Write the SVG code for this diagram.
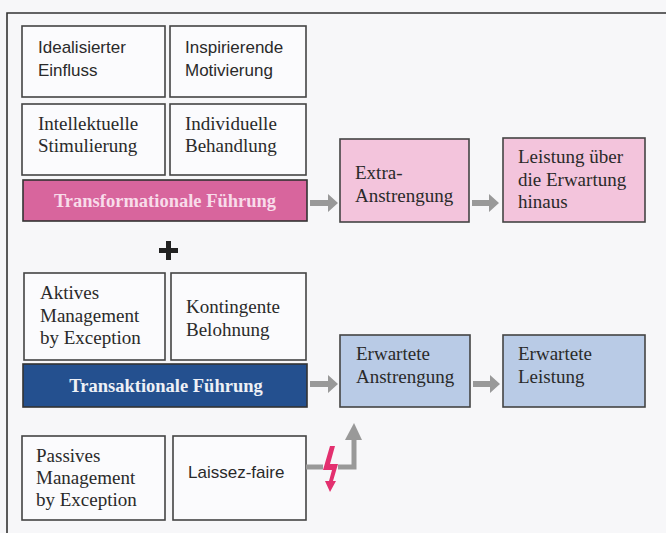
<svg xmlns="http://www.w3.org/2000/svg" width="666" height="533" viewBox="0 0 666 533">
<style>
.box{fill:#fbfbfd;stroke:#444;stroke-width:1.6}
.pink{fill:#f3c4dc;stroke:#444;stroke-width:1.6}
.blue{fill:#b9cbe6;stroke:#444;stroke-width:1.6}
.sans{font-family:"Liberation Sans",Arial,sans-serif;font-size:17px;fill:#2a2a2a}
.serif{font-family:"Liberation Serif","Times New Roman",serif;font-size:19px;fill:#2a2a2a}
.bar{font-family:"Liberation Serif","Times New Roman",serif;font-size:18.5px;font-weight:bold;text-anchor:middle}
.arrow{fill:#999}
</style>
<rect width="666" height="533" fill="#f7f7f9"/>
<path d="M7,533 V13 H666" fill="none" stroke="#333" stroke-width="1.6"/>

<g id="idealisierter">
<rect class="box" x="22" y="26" width="143" height="71"/>
<text class="sans" x="38" y="53">Idealisierter</text>
<text class="sans" x="38" y="76">Einfluss</text>
</g>
<g id="inspirierende">
<rect class="box" x="170" y="26" width="136" height="71"/>
<text class="sans" x="185" y="53">Inspirierende</text>
<text class="sans" x="185" y="76">Motivierung</text>
</g>
<g id="intellektuelle">
<rect class="box" x="22" y="104" width="143" height="71"/>
<text class="serif" x="38" y="130">Intellektuelle</text>
<text class="serif" x="38" y="152">Stimulierung</text>
</g>
<g id="individuelle">
<rect class="box" x="170" y="104" width="136" height="71"/>
<text class="serif" x="185" y="130">Individuelle</text>
<text class="serif" x="185" y="152">Behandlung</text>
</g>
<g id="transformational">
<rect x="23" y="180" width="284" height="41" fill="#d8659d" stroke="#333" stroke-width="1.6"/>
<text class="bar" x="165" y="207" fill="#f8dcea">Transformationale Führung</text>
</g>
<g id="extra">
<rect class="pink" x="340" y="139" width="129" height="83"/>
<text class="serif" x="355" y="179">Extra-</text>
<text class="serif" x="355" y="202">Anstrengung</text>
</g>
<g id="leistung-ueber">
<rect class="pink" x="503" y="138" width="142" height="84"/>
<text class="serif" x="518" y="163">Leistung über</text>
<text class="serif" x="518" y="186">die Erwartung</text>
<text class="serif" x="518" y="208">hinaus</text>
</g>

<g id="plus">
<path d="M166,241 h5 v7 h7 v5 h-7 v7 h-5 v-7 h-7 v-5 h7 z" fill="#222"/>
</g>

<g id="aktives">
<rect class="box" x="24" y="273" width="141" height="87"/>
<text class="serif" x="40" y="299">Aktives</text>
<text class="serif" x="40" y="322">Management</text>
<text class="serif" x="40" y="344">by Exception</text>
</g>
<g id="kontingente">
<rect class="box" x="171" y="273" width="135" height="87"/>
<text class="serif" x="186" y="313">Kontingente</text>
<text class="serif" x="186" y="336">Belohnung</text>
</g>
<g id="transaktional">
<rect x="23" y="364" width="284" height="43" fill="#24508f" stroke="#333" stroke-width="1.6"/>
<text class="bar" x="166" y="392" fill="#eef0f6">Transaktionale Führung</text>
</g>
<g id="erwartete-anstrengung">
<rect class="blue" x="340" y="335" width="130" height="72"/>
<text class="serif" x="356" y="360">Erwartete</text>
<text class="serif" x="356" y="383">Anstrengung</text>
</g>
<g id="erwartete-leistung">
<rect class="blue" x="503" y="335" width="142" height="72"/>
<text class="serif" x="518" y="360">Erwartete</text>
<text class="serif" x="518" y="383">Leistung</text>
</g>
<g id="passives">
<rect class="box" x="22" y="436" width="143" height="84"/>
<text class="serif" x="36" y="462">Passives</text>
<text class="serif" x="36" y="484">Management</text>
<text class="serif" x="36" y="506">by Exception</text>
</g>
<g id="laissez-faire">
<rect class="box" x="173" y="436" width="133" height="84"/>
<text class="sans" x="188" y="478">Laissez-faire</text>
</g>

<g id="connectors">
<path class="arrow" d="M310,200 h18 v-6 l10,9 l-10,9 v-6 h-18 z"/>
<path class="arrow" d="M472,200 h17 v-6 l10,9 l-10,9 v-6 h-17 z"/>
<path class="arrow" d="M310,381 h18 v-6 l10,9 l-10,9 v-6 h-18 z"/>
<path class="arrow" d="M473,381 h17 v-6 l10,9 l-10,9 v-6 h-17 z"/>
<path d="M306,467 H323 M338,467 H354 V438" fill="none" stroke="#999" stroke-width="5"/>
<path class="arrow" d="M345,440 L354,423 L362,440 z"/>
<path d="M330,446 L335,446 L330,464 L338,464 L333,481 L336,481 L330,492 L325,481 L329,481 L332,470 L323,470 Z" fill="#e3306f"/>
</g>
</svg>
